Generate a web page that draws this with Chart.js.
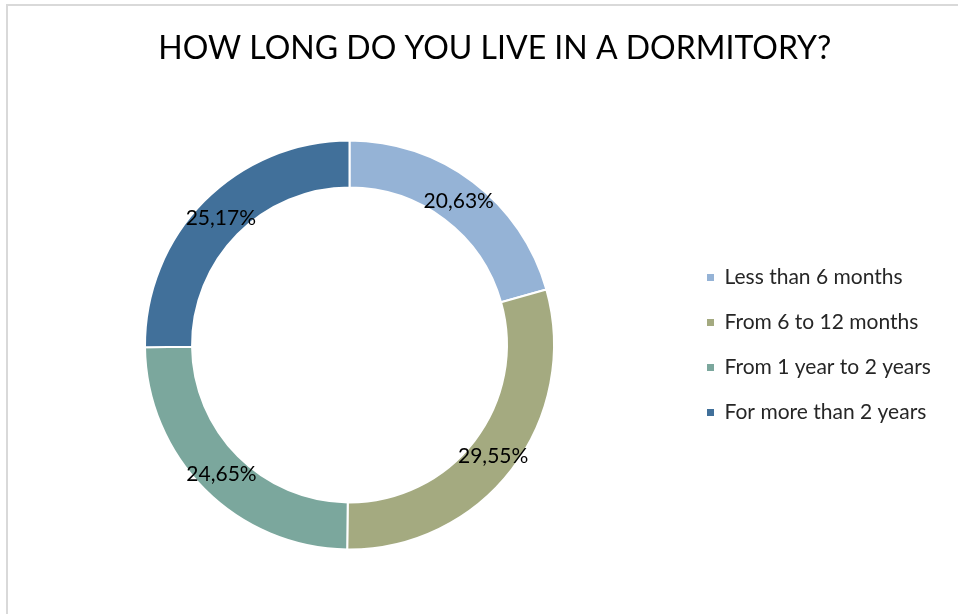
<!DOCTYPE html>
<html>
<head>
<meta charset="utf-8">
<script src="https://cdn.jsdelivr.net/npm/chart.js@4"></script>
<style>
  html, body { margin: 0; padding: 0; background: #fff; overflow: hidden; }
  #frame { position: absolute; left: 6px; top: 4px; width: 980px; height: 640px;
           border-top: 2px solid #d9d9d9; border-left: 2px solid #d9d9d9; }
  #chart { position: absolute; left: 0; top: 0; }
</style>
</head>
<body>
<div id="frame"></div>
<canvas id="chart" width="958" height="614"></canvas>
<script>
// Survey: time spent living in a dormitory (share of respondents, %).
const CATEGORIES = ['Less than 6 months', 'From 6 to 12 months', 'From 1 year to 2 years', 'For more than 2 years'];
const SHARES = [20.63, 29.55, 24.65, 25.17];
const COLORS = ['#95b3d6', '#a4aa80', '#7ba79d', '#41709a'];
const TITLE = 'HOW LONG DO YOU LIVE IN A DORMITORY?';

const FONT = 'Lato';
const LEGEND_SIZE = 21, LEGEND_PAD = 24, BOX = 7;

function el(id) { return document.getElementById(id); }
function pct(v) { return v.toFixed(2).replace('.', ',') + '%'; }

// labels drawn at the middle of each ring segment
const sliceLabels = {
  id: 'sliceLabels',
  afterDatasetsDraw(chart) {
    const { ctx } = chart;
    const meta = chart.getDatasetMeta(0);
    ctx.save();
    ctx.font = `21px ${FONT}`;
    ctx.fillStyle = '#000';
    ctx.textAlign = 'center';
    ctx.textBaseline = 'middle';
    meta.data.forEach((arc, i) => {
      const p = arc.tooltipPosition();
      ctx.fillText(pct(SHARES[i]), p.x, p.y + 1);
    });
    ctx.restore();
  },
};

// size the legend so the ring sits left and the legend column starts at x=707
const canvas = el('chart');
const mctx = canvas.getContext('2d');
mctx.font = `${LEGEND_SIZE}px ${FONT}`;
const maxText = Math.max(...CATEGORIES.map(c => mctx.measureText(c).width));
const legendLeft = 707 - LEGEND_PAD;
const legendW = LEGEND_PAD + BOX + LEGEND_SIZE / 2 + maxText + 10;
const padRight = canvas.width - (legendLeft + legendW);
const padLeft = 2 * 349.5 - legendLeft;

new Chart(canvas.getContext('2d'), {
  type: 'doughnut',
  data: {
    labels: CATEGORIES,
    datasets: [{ data: SHARES, backgroundColor: COLORS, borderColor: '#fff', borderWidth: 2 }],
  },
  plugins: [sliceLabels],
  options: {
    responsive: false, animation: false,
    cutout: '77%',
    layout: { padding: { left: padLeft, right: padRight, top: 0, bottom: 63.5 } },
    plugins: {
      tooltip: { enabled: false },
      title: { display: true, text: '    ' + TITLE, color: '#000',
               font: { family: FONT, size: 32, weight: 'normal', lineHeight: 1.2 },
               padding: { top: 29.5, bottom: 71.6 } },
      legend: {
        position: 'right', align: 'center', fullSize: false,
        labels: {
          color: '#262626', boxWidth: BOX, boxHeight: BOX, padding: LEGEND_PAD,
          font: { family: FONT, size: LEGEND_SIZE },
          generateLabels: c => Chart.overrides.doughnut.plugins.legend.labels.generateLabels(c)
            .map(l => ({ ...l, lineWidth: 0 })),
        },
      },
    },
  },
});
</script>
</body>
</html>
